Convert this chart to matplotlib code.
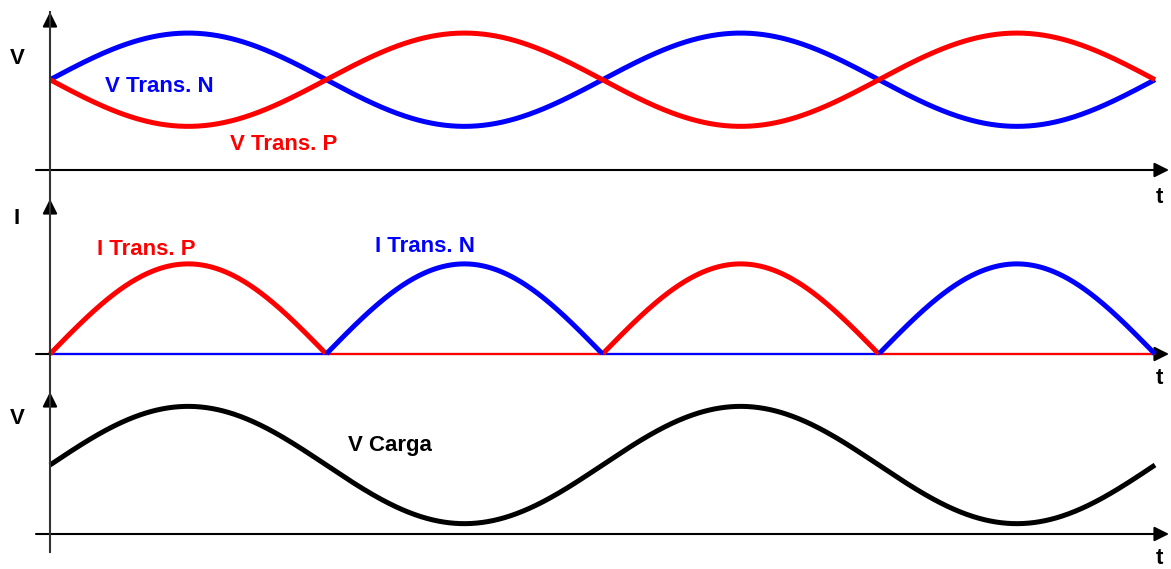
import numpy as np
import matplotlib.pyplot as plt
from matplotlib.lines import Line2D

# dados do gráfico (unidades arbitrárias)
periodo_ms = 20.0          # período da tensão de entrada
t_fim = 40.0               # dois períodos
v_meio = 6.0               # tensão média dos transistores
v_amp = 3.1                # amplitude da tensão nos transistores
v_topo = 10.5
i_pico = 1.0               # corrente de pico nos transistores
i_topo = 1.72
vc_meio = 6.0              # tensão média na carga
vc_amp = 5.1
vc_topo = 12.35

rotulos_y = ["V", "I", "V"]
rotulo_x = "t"

W, H = 1171, 569
fig = plt.figure(figsize=(W / 100, H / 100), dpi=100)
fig.patch.set_facecolor("white")

def fx(x):
    return x / W

def fy(y):
    return 1 - y / H

x0, x1 = 50, 1155
# (topo da seta, linha de base) de cada painel em pixels
paineis = [(12, 170), (199, 354), (392, 534)]
topos = [v_topo, i_topo, vc_topo]

t = np.linspace(0, t_fim, 1200)
s = np.sin(2 * np.pi * t / periodo_ms)

cor_eixo = "#333333"
fonte = dict(family=["Liberation Sans", "DejaVu Sans"], weight="bold", fontsize=16)

axs = []
for (ytop, ybase), topo in zip(paineis, topos):
    ax = fig.add_axes([fx(x0), fy(ybase), fx(x1 - x0), (ybase - ytop) / H])
    ax.set_xlim(0, t_fim)
    ax.set_ylim(0, topo)
    ax.axis("off")
    # eixo horizontal com seta
    ax.annotate("", xy=((1169 - x0) / (x1 - x0), 0), xytext=((36 - x0) / (x1 - x0), 0),
                xycoords="axes fraction", textcoords="axes fraction",
                arrowprops=dict(arrowstyle="-|>", color="black", lw=1.5,
                                mutation_scale=22, shrinkA=0, shrinkB=0),
                annotation_clip=False, zorder=1)
    # seta do eixo vertical
    ax.annotate("", xy=(0, 1), xytext=(0, 0.9),
                xycoords="axes fraction", textcoords="axes fraction",
                arrowprops=dict(arrowstyle="-|>", color="black", lw=1.5,
                                mutation_scale=22, shrinkA=0, shrinkB=0),
                annotation_clip=False, zorder=1)
    axs.append(ax)

# linha vertical contínua
fig.add_artist(Line2D([fx(x0), fx(x0)], [fy(12), fy(552)], color=cor_eixo, lw=1.5))

# painel 1: tensões nos transistores
v_n = v_meio + v_amp * s
v_p = v_meio - v_amp * s
axs[0].plot(t, v_n, color="#0000ff", lw=3.6, solid_capstyle="butt", clip_on=False, zorder=3)
axs[0].plot(t, v_p, color="#ff0000", lw=3.6, solid_capstyle="butt", clip_on=False, zorder=4)

# painel 2: correntes (meia onda cada)
i_p = i_pico * np.clip(s, 0, None)
i_n = i_pico * np.clip(-s, 0, None)
ativo_p = s >= -1e-9
ativo_n = s <= 1e-9
# trechos em zero (linha fina)
axs[1].plot(t, np.where(ativo_p, np.nan, 0), color="#ff0000", lw=1.6, clip_on=False, zorder=3)
axs[1].plot(t, np.where(ativo_n, np.nan, 0), color="#0000ff", lw=1.6, clip_on=False, zorder=3)
# semiciclos de condução
axs[1].plot(t, np.where(ativo_p, i_p, np.nan), color="#ff0000", lw=3.6, solid_capstyle="butt", clip_on=False, zorder=4)
axs[1].plot(t, np.where(ativo_n, i_n, np.nan), color="#0000ff", lw=3.6, solid_capstyle="butt", clip_on=False, zorder=4)

# painel 3: tensão na carga
v_carga = vc_meio + vc_amp * s
axs[2].plot(t, v_carga, color="black", lw=3.6, solid_capstyle="butt", clip_on=False, zorder=3)

# textos
for rot, ylab in zip(rotulos_y, [58, 219, 418]):
    fig.text(fx(17), fy(ylab), rot, ha="center", va="center", color="black", **fonte)
for yt in [197, 379, 558]:
    fig.text(fx(1159), fy(yt), rotulo_x, ha="center", va="center", color="black", **fonte)

fig.text(fx(105), fy(87), "V Trans. N", ha="left", va="center", color="#0000ff", **fonte)
fig.text(fx(230), fy(144), "V Trans. P", ha="left", va="center", color="#ff0000", **fonte)
fig.text(fx(97), fy(249), "I Trans. P", ha="left", va="center", color="#ff0000", **fonte)
fig.text(fx(375), fy(246), "I Trans. N", ha="left", va="center", color="#0000ff", **fonte)
fig.text(fx(348), fy(446), "V Carga", ha="left", va="center", color="black", **fonte)

fig.savefig("out.png", dpi=100, facecolor="white")
